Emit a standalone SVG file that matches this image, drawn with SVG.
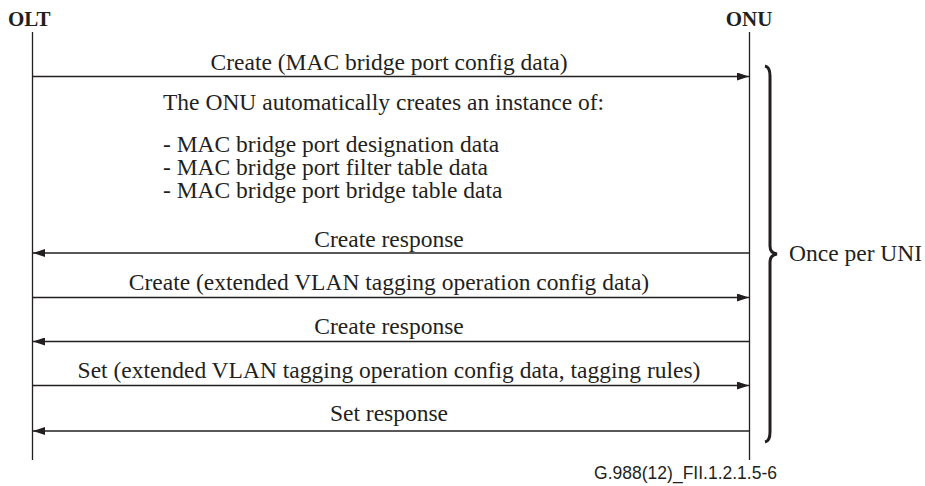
<svg xmlns="http://www.w3.org/2000/svg" width="925" height="486" viewBox="0 0 925 486">
<style>
.t{font-family:"Liberation Serif","Times New Roman",serif;font-size:23.5px;fill:#231f20}
.h{font-family:"Liberation Serif","Times New Roman",serif;font-size:21px;font-weight:bold;fill:#231f20}
.c{text-anchor:middle}
.ln{stroke:#231f20;stroke-width:1.3;fill:none}
.f{font-family:"Liberation Sans",Arial,sans-serif;font-size:17.5px;fill:#231f20}
</style>
<defs>
<marker id="ah" viewBox="0 0 12 8" refX="12" refY="4" markerWidth="12" markerHeight="8" markerUnits="userSpaceOnUse" orient="auto">
<path d="M0,0 L12,4 L0,8 z" fill="#231f20"/>
</marker>
</defs>
<g id="olt">
<text class="h" x="8" y="26">OLT</text>
<line class="ln" x1="32.5" y1="32" x2="32.5" y2="460"/>
</g>
<g id="onu">
<text class="h c" x="749" y="26">ONU</text>
<line class="ln" x1="749.5" y1="32" x2="749.5" y2="460"/>
</g>
<g id="connectors">
<line class="ln" x1="33" y1="76.5" x2="749" y2="76.5" marker-end="url(#ah)"/>
<line class="ln" x1="749" y1="253" x2="33" y2="253" marker-end="url(#ah)"/>
<line class="ln" x1="33" y1="297.5" x2="749" y2="297.5" marker-end="url(#ah)"/>
<line class="ln" x1="749" y1="341.5" x2="33" y2="341.5" marker-end="url(#ah)"/>
<line class="ln" x1="33" y1="385.5" x2="749" y2="385.5" marker-end="url(#ah)"/>
<line class="ln" x1="749" y1="431" x2="33" y2="431" marker-end="url(#ah)"/>
</g>
<g id="labels">
<text class="t c" x="389" y="70">Create (MAC bridge port config data)</text>
<text class="t" x="163" y="110">The ONU automatically creates an instance of:</text>
<text class="t" x="163" y="152"><tspan x="163" y="152">- MAC bridge port designation data</tspan><tspan x="163" dy="23">- MAC bridge port filter table data</tspan><tspan x="163" dy="23">- MAC bridge port bridge table data</tspan></text>
<text class="t c" x="389" y="246.5">Create response</text>
<text class="t c" x="389" y="290">Create (extended VLAN tagging operation config data)</text>
<text class="t c" x="389" y="334">Create response</text>
<text class="t c" x="389" y="378">Set (extended VLAN tagging operation config data, tagging rules)</text>
<text class="t c" x="389" y="421">Set response</text>
</g>
<g id="brace">
<path d="M765,66 Q770,67 770,76 L770,246 Q770,253 777,254 Q770,255 770,262 L770,432 Q770,441 765,442" fill="none" stroke="#231f20" stroke-width="3"/>
<text class="t" x="789" y="261">Once per UNI</text>
</g>
<text class="f" x="777" y="479" text-anchor="end">G.988(12)_FII.1.2.1.5-6</text>
</svg>
